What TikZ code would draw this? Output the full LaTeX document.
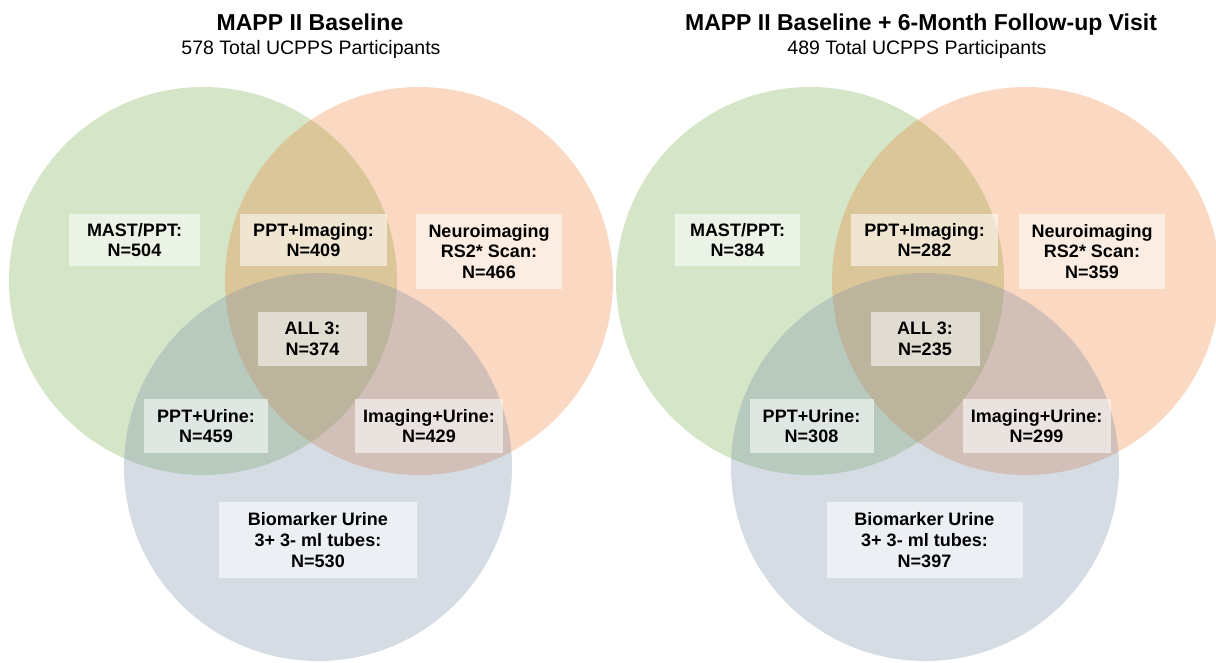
\documentclass[tikz,border=0pt]{standalone}
\usepackage{fontspec}
\setmainfont{Liberation Sans}
\usepackage{xcolor}
\usepackage{tikz}
\usetikzlibrary{positioning}
\definecolor{setgreen}{RGB}{112, 173, 71}
\definecolor{setorange}{RGB}{237, 125, 49}
\definecolor{setblue}{RGB}{118, 138, 165}
\tikzstyle{setcircle} = [
    circle,
    minimum size=388pt,
    inner sep=0pt,
    fill opacity=0.3
]
\tikzstyle{countbox} = [
    rectangle,
    fill=white,
    fill opacity=0.55,
    text opacity=1,
    align=center,
    inner sep=0pt,
    font=\fontsize{18}{20.8}\selectfont\bfseries
]
\tikzstyle{heading} = [
    anchor=base,
    font=\fontsize{23}{26}\selectfont\bfseries
]
\tikzstyle{subheading} = [
    anchor=base,
    font=\fontsize{19.5}{22}\selectfont
]

\begin{document}
\begin{tikzpicture}[x=1pt, y=-1pt]
    \useasboundingbox (0,0) rectangle (1216,662);

    % baseline visit
    \node[heading] (titleA) at (310,30) {MAPP II Baseline};
    \node[subheading] (subA) at (311,54) {578 Total UCPPS Participants};
    \node[setcircle, fill=setgreen] (greenA) at (203,281) {};
    \node[setcircle, fill=setorange] (orangeA) at (419,281) {};
    \node[setcircle, fill=setblue] (blueA) at (318,467) {};
    \node[countbox, minimum width=131pt, minimum height=52pt] (mastA) at (134.5,240) {MAST/PPT:\\N=504};
    \node[countbox, minimum width=147pt, minimum height=52pt] (ppimA) at (313.5,240) {PPT+Imaging:\\N=409};
    \node[countbox, minimum width=146pt, minimum height=75pt] (neuroA) at (489,251.5) {Neuroimaging\\RS2* Scan:\\N=466};
    \node[countbox, minimum width=109pt, minimum height=54pt] (allA) at (312.5,339) {ALL 3:\\N=374};
    \node[countbox, minimum width=124pt, minimum height=54pt] (ppurA) at (206,426) {PPT+Urine:\\N=459};
    \node[countbox, minimum width=148pt, minimum height=54pt] (imurA) at (429,426) {Imaging+Urine:\\N=429};
    \node[countbox, minimum width=198pt, minimum height=76pt] (bioA) at (318,540) {Biomarker Urine\\3+ 3- ml tubes:\\N=530};

    % baseline + follow-up visit
    \begin{scope}[xshift=607pt]
    \node[heading] (titleB) at (314,30) {MAPP II Baseline + 6-Month Follow-up Visit};
    \node[subheading] (subB) at (310,54) {489 Total UCPPS Participants};
    \node[setcircle, fill=setgreen] (greenB) at (203,281) {};
    \node[setcircle, fill=setorange] (orangeB) at (419,281) {};
    \node[setcircle, fill=setblue] (blueB) at (318,467) {};
    \node[countbox, minimum width=125pt, minimum height=52pt] (mastB) at (130.5,240) {MAST/PPT:\\N=384};
    \node[countbox, minimum width=147pt, minimum height=52pt] (ppimB) at (317.5,240) {PPT+Imaging:\\N=282};
    \node[countbox, minimum width=146pt, minimum height=75pt] (neuroB) at (485,251.5) {Neuroimaging\\RS2* Scan:\\N=359};
    \node[countbox, minimum width=109pt, minimum height=54pt] (allB) at (318,339) {ALL 3:\\N=235};
    \node[countbox, minimum width=124pt, minimum height=54pt] (ppurB) at (204.5,426) {PPT+Urine:\\N=308};
    \node[countbox, minimum width=148pt, minimum height=54pt] (imurB) at (429.5,426) {Imaging+Urine:\\N=299};
    \node[countbox, minimum width=196pt, minimum height=76pt] (bioB) at (317.5,540) {Biomarker Urine\\3+ 3- ml tubes:\\N=397};
    \end{scope}
\end{tikzpicture}
\end{document}
